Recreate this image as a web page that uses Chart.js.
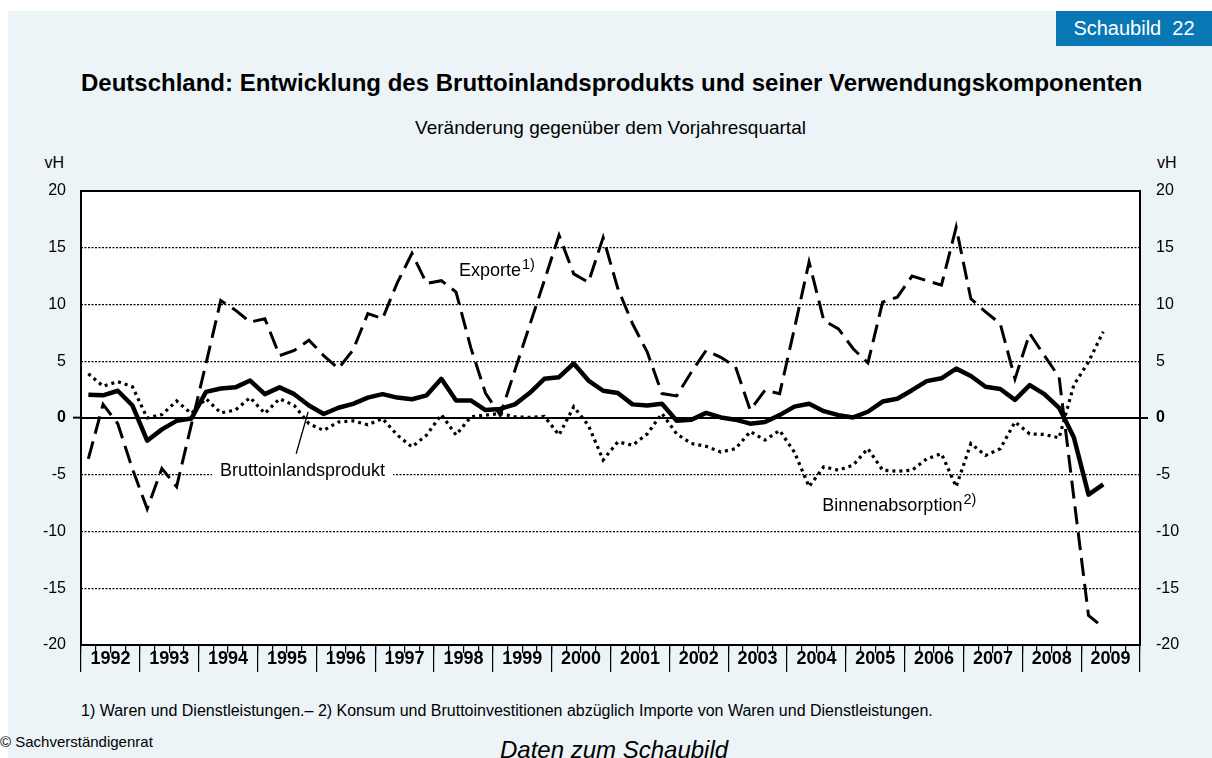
<!DOCTYPE html>
<html><head><meta charset="utf-8">
<script src="https://cdn.jsdelivr.net/npm/chart.js@4.4.1/dist/chart.umd.min.js"></script>
<style>
html,body{margin:0;padding:0;background:#fff;}
body{width:1212px;height:758px;position:relative;overflow:hidden;font-family:'Liberation Sans',Arial,sans-serif;}
#panel{position:absolute;left:8px;top:11px;right:0;bottom:0;background:#ECF4F8;}
#c{position:absolute;left:0;top:0;}
.t{position:absolute;white-space:nowrap;color:#000;line-height:1;}
</style></head><body>
<div id="panel"></div>
<div style="position:absolute;left:1056px;top:11px;width:156px;height:35px;background:#0A77B5;color:#fff;font-size:20px;line-height:35px;text-align:center;">Schaubild&nbsp;&nbsp;22</div>
<div class="t" style="left:81px;width:1059px;top:71px;text-align:center;font-weight:bold;font-size:24px;">Deutschland: Entwicklung des Bruttoinlandsprodukts und seiner Verwendungskomponenten</div>
<div class="t" style="left:81px;width:1059px;top:118px;text-align:center;font-size:19px;">Veränderung gegenüber dem Vorjahresquartal</div>
<div class="t" style="left:0;width:64px;top:155px;text-align:right;font-size:16px;">vH</div>
<div class="t" style="left:1157px;top:155px;font-size:16px;">vH</div>
<div class="t" style="left:81px;top:703px;font-size:16px;">1) Waren und Dienstleistungen.– 2) Konsum und Bruttoinvestitionen abzüglich Importe von Waren und Dienstleistungen.</div>
<div class="t" style="left:0;top:734px;font-size:15px;">© Sachverständigenrat</div>
<div class="t" style="left:500px;top:738px;font-size:24px;font-style:italic;">Daten zum Schaubild</div>
<canvas id="c" width="1212" height="758"></canvas>
<script>
const years = ['1992','1993','1994','1995','1996','1997','1998','1999','2000','2001','2002','2003','2004','2005','2006','2007','2008','2009'];
const quarters = ['Q1','Q2','Q3','Q4'];
const quarterLabels = years.flatMap(y => quarters.map(q => y + ' ' + q));

const bip = [2.05,2.0,2.4,1.1, -2.0,-1.0,-0.25,-0.05, 2.3,2.6,2.7,3.3, 2.1,2.7,2.1,1.1,
  0.35,0.9,1.25,1.8, 2.1,1.8,1.65,2.0, 3.45,1.55,1.55,0.7, 0.8,1.2,2.2,3.45,
  3.6,4.8,3.3,2.4, 2.2,1.2,1.1,1.25, -0.25,-0.15,0.45,0.05, -0.15,-0.5,-0.35,0.25,
  1.0,1.25,0.6,0.25, 0.05,0.55,1.45,1.7, 2.45,3.25,3.5,4.35, 3.7,2.75,2.55,1.6,
  2.9,2.1,0.9,-1.7, -6.75,-5.85];
const exporte = [-3.6,1.2,-0.5,-4.5, -8.0,-4.45,-6.05,-0.6, 4.8,10.35,9.5,8.45, 8.75,5.5,5.95,6.85,
  5.5,4.35,6.0,9.2, 8.75,11.9,14.5,11.85, 12.1,11.1,6.2,2.2, 0.25,4.2,8.15,12.1,
  16.1,12.7,11.95,15.9, 11.4,8.3,5.8,2.15, 1.95,4.05,5.95,5.35, 4.5,0.7,2.45,2.15,
  7.85,13.75,8.6,7.85, 6.1,4.85,10.2,10.65, 12.5,12.1,11.7,16.8, 10.5,9.35,8.3,3.45,
  7.45,5.5,3.6,-7.0, -17.4,-18.45];
const binnen = [3.9,2.8,3.2,2.75, 0.0,0.3,1.5,0.4, 1.7,0.45,0.7,1.8, 0.4,1.7,1.1,-0.5,
  -1.1,-0.35,-0.25,-0.6, -0.05,-1.5,-2.55,-1.5, 0.3,-1.5,0.1,0.25, 0.4,0.1,0.05,0.15,
  -1.5,1.0,-0.65,-3.7, -2.1,-2.4,-1.4,0.4, -1.4,-2.25,-2.5,-3.0, -2.7,-1.2,-1.95,-1.1,
  -3.0,-6.05,-4.3,-4.6, -4.15,-2.7,-4.6,-4.7, -4.6,-3.6,-3.15,-6.05, -2.25,-3.3,-2.7,-0.35,
  -1.4,-1.45,-1.75,2.9, 4.95,7.6];

const FF = "'Liberation Sans', Arial, sans-serif";
const CLEAR = 'rgba(0,0,0,0)';

// text annotations placed in data coordinates [quarter index, value]
const notes = {
  exporte: {x: 25.2, y: 12.5, text: 'Exporte', sup: '1)'},
  bip: {x: 8.95, y: -5.1, text: 'Bruttoinlandsprodukt'},
  binnen: {x: 49.9, y: -8.2, text: 'Binnenabsorption', sup: '2)'},
  leader: [[14.94, 0.53], [14.13, -3.15]]
};

function px(chart, i) {
  const s = chart.scales.x; const f = Math.floor(i);
  const a = s.getPixelForValue(f), b = s.getPixelForValue(f + 1);
  return a + (i - f) * (b - a);
}
function py(chart, v) { return chart.scales.y.getPixelForValue(v); }

const deco = {
  id: 'deco',
  beforeDraw(chart) {
    const {ctx, chartArea: a} = chart;
    ctx.save(); ctx.fillStyle = '#fff';
    ctx.fillRect(a.left, a.top, a.right - a.left, a.bottom - a.top);
    ctx.restore();
  },
  beforeDatasetsDraw(chart) {
    const {ctx, chartArea: a} = chart;
    ctx.save();
    ctx.strokeStyle = '#000'; ctx.lineWidth = 2;
    ctx.strokeRect(a.left, a.top, a.right - a.left, a.bottom - a.top);
    ctx.font = '18px ' + FF; ctx.fillStyle = '#000'; ctx.textBaseline = 'alphabetic';
    const n = notes.bip; const bx = px(chart, n.x), by = py(chart, n.y);
    const w = ctx.measureText(n.text).width;
    ctx.fillStyle = '#fff'; ctx.fillRect(bx - 8, by - 16, w + 16, 21);
    ctx.fillStyle = '#000'; ctx.fillText(n.text, bx, by);
    ctx.lineWidth = 1.3; ctx.beginPath();
    ctx.moveTo(px(chart, notes.leader[0][0]), py(chart, notes.leader[0][1]));
    ctx.lineTo(px(chart, notes.leader[1][0]), py(chart, notes.leader[1][1]));
    ctx.stroke();
    for (const k of ['exporte', 'binnen']) {
      const m = notes[k]; const x = px(chart, m.x), y = py(chart, m.y);
      ctx.font = '18px ' + FF; ctx.fillText(m.text, x, y);
      const tw = ctx.measureText(m.text).width;
      ctx.font = '14.5px ' + FF; ctx.fillText(m.sup, x + tw + 1, y - 7);
    }
    ctx.restore();
  }
};

const yTickFont = ctx => ({family: FF, size: 16, weight: (ctx.tick && ctx.tick.value === 0) ? 'bold' : 'normal'});

new Chart(document.getElementById('c'), {
  type: 'line',
  data: {
    labels: quarterLabels,
    datasets: [
      {label: 'Bruttoinlandsprodukt', data: bip, borderColor: '#000', borderWidth: 4.5, pointRadius: 0, tension: 0, fill: false, borderJoinStyle: 'round'},
      {label: 'Exporte', data: exporte, borderColor: '#000', borderWidth: 3, borderDash: [18, 8], pointRadius: 0, tension: 0, fill: false},
      {label: 'Binnenabsorption', data: binnen, borderColor: '#000', borderWidth: 3.2, borderDash: [3, 4], pointRadius: 0, tension: 0, fill: false}
    ]
  },
  options: {
    responsive: false, animation: false, events: [],
    layout: {padding: {top: 191, left: 0, right: 0, bottom: 0}},
    plugins: {legend: {display: false}, tooltip: {enabled: false}},
    scales: {
      x: {
        type: 'category', labels: quarterLabels, min: quarterLabels[0], max: quarterLabels[quarterLabels.length - 1],
        position: {y: -20}, offset: true,
        grid: {offset: true, drawOnChartArea: false, drawTicks: true, tickLength: 8, color: '#000', lineWidth: 1.2},
        border: {display: false}, ticks: {display: false}
      },
      x2: {
        type: 'category', labels: years, position: 'bottom', offset: true,
        grid: {offset: true, drawOnChartArea: false, drawTicks: true, tickLength: 27, color: '#000', lineWidth: 1.2},
        border: {display: false},
        ticks: {font: {family: FF, size: 18, weight: 'bold'}, color: '#000', padding: -24, autoSkip: false, maxRotation: 0},
        afterFit(s) { s.height = 113; }
      },
      y: {
        position: 'left', min: -20, max: 20,
        ticks: {stepSize: 5, color: '#000', font: yTickFont, padding: 7},
        grid: {color: c => (c.tick.value === 0 || Math.abs(c.tick.value) === 20) ? CLEAR : '#000', lineWidth: 1.3,
               tickLength: 8, tickColor: c => c.tick.value === 0 ? '#000' : CLEAR, tickWidth: 2},
        border: {display: false, dash: [2, 1.5]},
        afterFit(s) { s.width = 81; }
      },
      y1: {
        position: 'right', min: -20, max: 20,
        ticks: {stepSize: 5, color: '#000', font: yTickFont, padding: 8},
        grid: {color: c => c.tick.value === 0 ? '#000' : CLEAR, lineWidth: 2,
               tickLength: 8, tickColor: c => c.tick.value === 0 ? '#000' : CLEAR, tickWidth: 2},
        border: {display: false},
        afterFit(s) { s.width = 72; }
      }
    }
  },
  plugins: [deco]
});
</script>
</body></html>
